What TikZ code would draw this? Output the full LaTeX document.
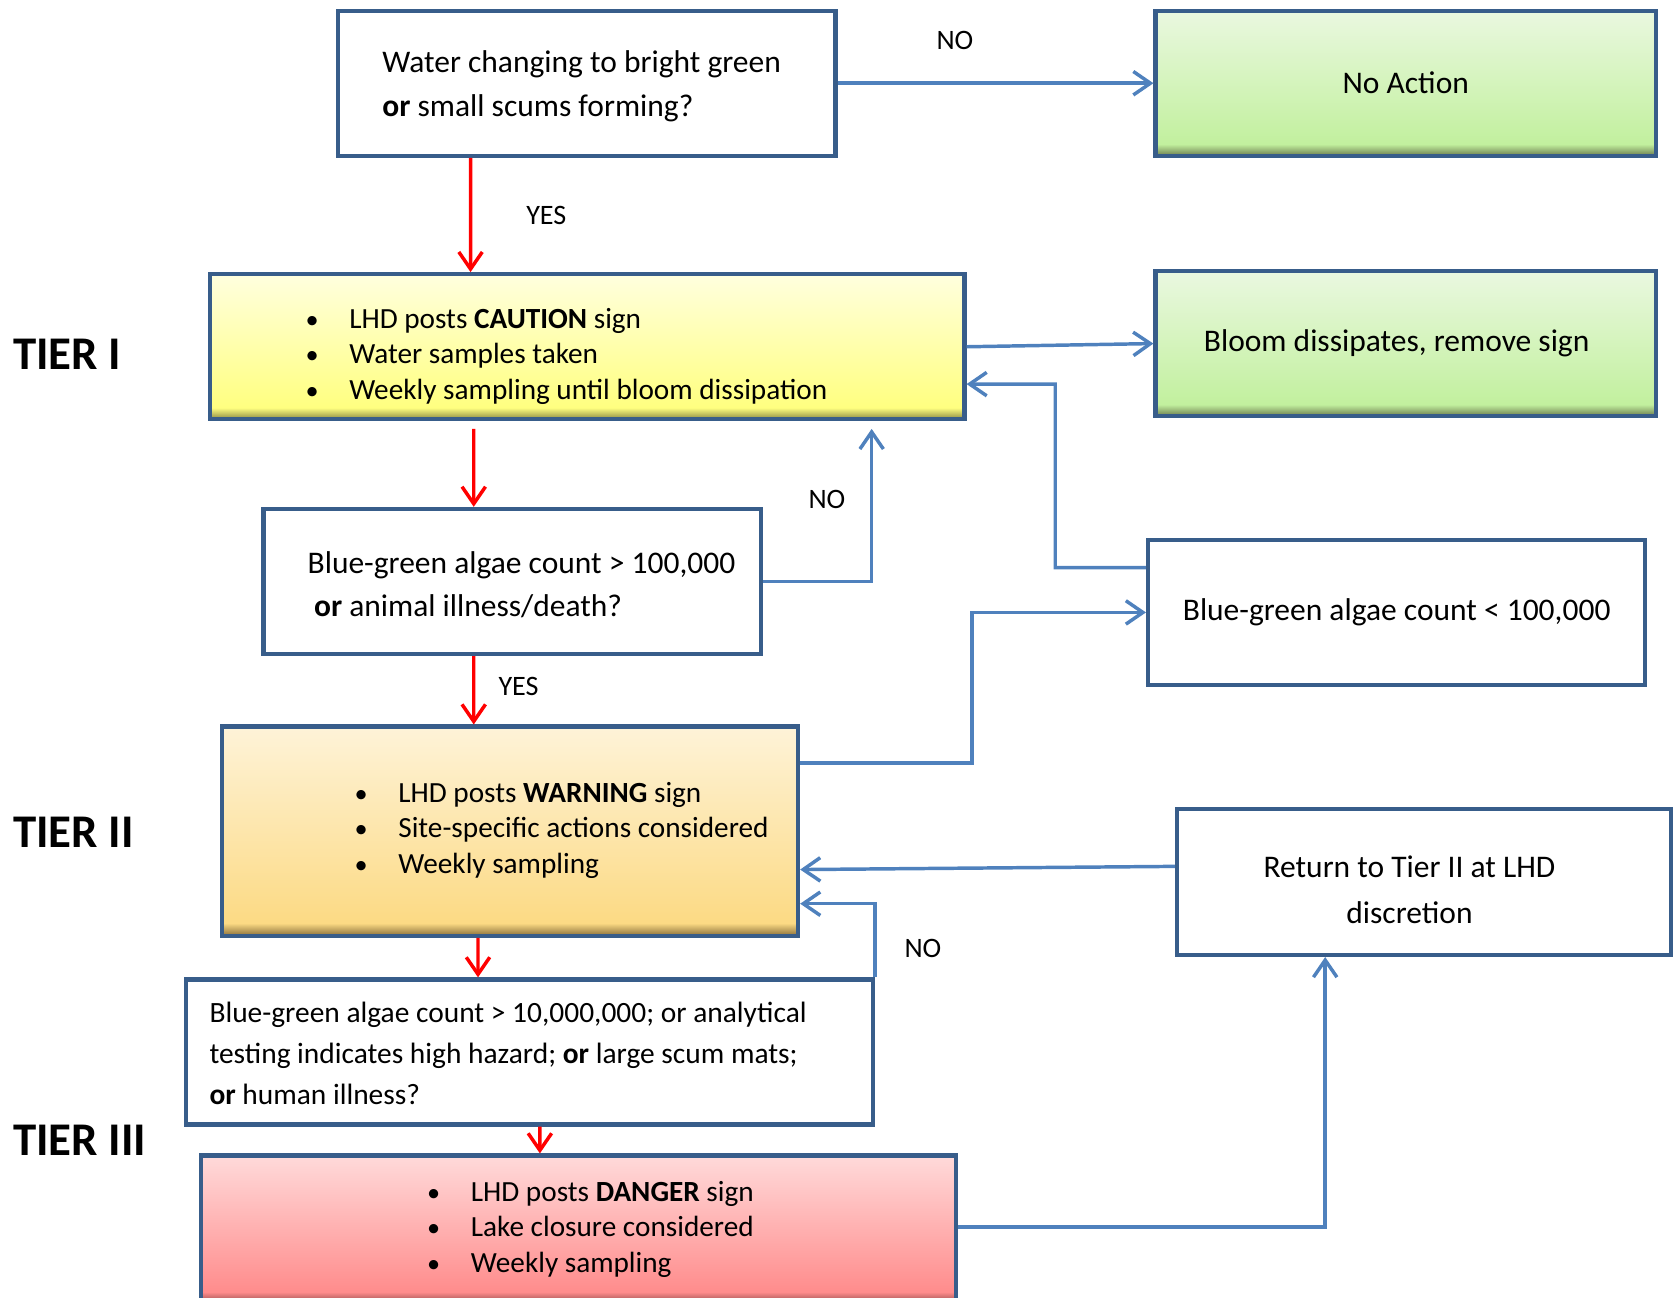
\documentclass[tikz,border=0pt]{standalone}
\usepackage{fontspec}
\setmainfont{Carlito}
\usetikzlibrary{arrows.meta}

\definecolor{boxline}{RGB}{56,93,138}
\definecolor{arrowblue}{RGB}{79,129,189}
\definecolor{gtop}{RGB}{234,248,224}
\definecolor{gbot}{RGB}{194,240,158}
\definecolor{gdark}{RGB}{108,124,78}
\definecolor{ytop}{RGB}{255,255,222}
\definecolor{ybot}{RGB}{255,255,128}
\definecolor{ydark}{RGB}{138,136,66}
\definecolor{otop}{RGB}{254,243,216}
\definecolor{obot}{RGB}{252,218,132}
\definecolor{odark}{RGB}{138,112,58}
\definecolor{rtop}{RGB}{255,218,218}
\definecolor{rbot}{RGB}{255,140,140}
\definecolor{rdark}{RGB}{138,70,70}

\pgfdeclareverticalshading{greenfill}{100bp}{color(0bp)=(gdark); color(25bp)=(gdark); color(29bp)=(gbot); color(75bp)=(gtop); color(100bp)=(gtop)}
\pgfdeclareverticalshading{yellowfill}{100bp}{color(0bp)=(ydark); color(25bp)=(ydark); color(29bp)=(ybot); color(75bp)=(ytop); color(100bp)=(ytop)}
\pgfdeclareverticalshading{orangefill}{100bp}{color(0bp)=(odark); color(25bp)=(odark); color(28bp)=(obot); color(75bp)=(otop); color(100bp)=(otop)}
\pgfdeclareverticalshading{redfill}{100bp}{color(0bp)=(rdark); color(25bp)=(rdark); color(29bp)=(rbot); color(75bp)=(rtop); color(100bp)=(rtop)}

\newcommand{\blt}{\makebox[0.82cm][l]{\fontsize{14}{14}\selectfont\textbullet}}

\begin{document}
\begin{tikzpicture}[x=0.02cm,y=-0.02cm,
		>={Straight Barb[length=0.32cm,width=0.44cm]},
		box/.style={draw=boxline,line width=0.08cm,minimum height=2.72cm,inner sep=0pt,
			font=\fontsize{16.8}{23.3}\selectfont},
		greenbox/.style={shade,shading=greenfill},
		yellowbox/.style={shade,shading=yellowfill},
		orangebox/.style={shade,shading=orangefill},
		redbox/.style={shade,shading=redfill},
		qtext/.style={anchor=west,align=left,inner sep=0pt,font=\fontsize{16.8}{23.3}\selectfont},
		bullets/.style={anchor=west,align=left,inner sep=0pt,font=\fontsize{15.6}{19}\selectfont},
		tier/.style={anchor=west,inner sep=0pt,font=\fontsize{25}{30}\selectfont\bfseries},
		lbl/.style={inner sep=0pt,font=\fontsize{15}{18}\selectfont},
		redarrow/.style={draw=red,line width=0.065cm,->},
		bluearrow/.style={draw=arrowblue,line width=0.065cm,->}]
		\useasboundingbox (0,0) rectangle (1568,1216);

		% boxes
		\node[box,minimum width=9.32cm] (qone) at (550,78) {};
		\node[qtext] (qonetxt) at (358,81) {Water changing to bright green\\\textbf{or} small scums forming?};
		\node[box,greenbox,minimum width=9.38cm] (noaction) at (1317.5,78) {No Action};
		\node[box,yellowbox,minimum width=14.14cm] (caution) at (550.5,325) {};
		\node[bullets] (cautiontxt) at (286,334) {\blt LHD posts \textbf{CAUTION} sign\\\blt Water samples taken\\\blt Weekly sampling until bloom dissipation};
		\node[box,greenbox,minimum width=9.38cm] (dissipate) at (1317.5,322) {};
		\node[qtext,anchor=center] (dissipatetxt) at (1309,322) {Bloom dissipates, remove sign};
		\node[box,minimum width=9.32cm] (qtwo) at (480,545) {};
		\node[qtext] (qtwotxt) at (288,548) {Blue-green algae count > 100,000\\\hspace*{0.12cm}\textbf{or} animal illness/death?};
		\node[box,minimum width=9.32cm] (lowcount) at (1309,574) {Blue-green algae count < 100,000};
		\node[box,orangebox,minimum width=10.8cm,minimum height=3.92cm] (warning) at (478,779) {};
		\node[bullets] (warningtxt) at (332,778) {\blt LHD posts \textbf{WARNING} sign\\\blt Site-specific actions considered\\\blt Weekly sampling};
		\node[box,minimum width=9.26cm,minimum height=2.74cm] (returntwo) at (1334.5,826.5) {};
		\node[qtext,anchor=center,align=center,font=\fontsize{16.8}{24.4}\selectfont] (returntxt) at (1321,834) {Return to Tier II at LHD\\discretion};
		\node[box,minimum width=12.88cm] (qthree) at (496,986) {};
		\node[qtext,font=\fontsize{15.7}{21.9}\selectfont] (qthreetxt) at (196,987) {Blue-green algae count > 10,000,000; or analytical\\testing indicates high hazard; \textbf{or} large scum mats;\\\textbf{or} human illness?};
		\node[box,redbox,minimum width=14.16cm,minimum height=2.78cm] (danger) at (542,1152.5) {};
		\node[bullets] (dangertxt) at (400,1152) {\blt LHD posts \textbf{DANGER} sign\\\blt Lake closure considered\\\blt Weekly sampling};

		% tiers
		\node[tier] (tierone) at (12,332) {TIER I};
		\node[tier] (tiertwo) at (12,780) {TIER II};
		\node[tier] (tierthree) at (12,1069) {TIER III};

		% answers
		\node[lbl] (noone) at (895,38) {NO};
		\node[lbl] (yesone) at (512,202) {YES};
		\node[lbl] (notwo) at (775,468) {NO};
		\node[lbl] (yestwo) at (486,643) {YES};
		\node[lbl] (nothree) at (865,889) {NO};

		\coordinate (bendone) at (989,360);
		\coordinate (bendtwo) at (911,574);

		% red: yes
		\draw[redarrow] ([xshift=-2.18cm]qone.south) -- ([xshift=-2.19cm]caution.north);
		\draw[redarrow] ([xshift=-2.13cm,yshift=-0.14cm]caution.south) -- ([xshift=-0.72cm]qtwo.north);
		\draw[redarrow] ([xshift=-0.72cm]qtwo.south) -- ([xshift=-0.68cm]warning.north);
		\draw[redarrow] ([xshift=-0.6cm]warning.south) -- ([xshift=-0.96cm]qthree.north);
		\draw[redarrow] ([xshift=0.2cm]qthree.south) -- ([xshift=-0.72cm]danger.north);

		% blue: no / back
		\draw[bluearrow] (qone.east) -- (noaction.west);
		\draw[bluearrow] (caution.east) -- (dissipate.west);
		\draw[bluearrow] (qtwo.east) -| ([xshift=5.33cm,yshift=-0.14cm]caution.south);
		\draw[bluearrow] ([yshift=0.84cm]lowcount.west) -| (bendone) -- ([yshift=-0.7cm]caution.east);
		\draw[bluearrow] ([yshift=1.28cm]warning.east) -| (bendtwo) -- (lowcount.west);
		\draw[bluearrow] ([yshift=0.29cm]returntwo.west) -- ([yshift=-0.72cm]warning.east);
		\draw[bluearrow] (qthree.north east) |- ([yshift=-1.36cm]warning.east);
		\draw[bluearrow] ([yshift=0.05cm]danger.east) -| ([xshift=-1.85cm]returntwo.south);
	\end{tikzpicture}
\end{document}
